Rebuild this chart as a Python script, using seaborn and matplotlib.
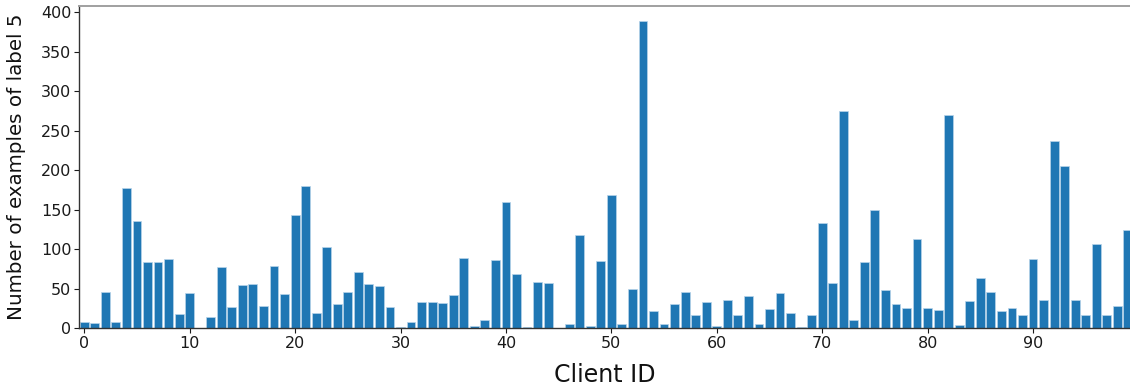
import numpy as np
import pandas as pd
import matplotlib
matplotlib.use("Agg")
import matplotlib.pyplot as plt
import seaborn as sns

# Per-client count of samples carrying label 5
client_ids = list(range(100))
label5_counts = [
    8, 6, 46, 7, 177, 135, 84, 83, 88, 18,
    44, 0, 14, 77, 26, 55, 56, 28, 79, 43,
    143, 180, 19, 102, 31, 45, 71, 56, 53, 27,
    1, 7, 33, 33, 32, 42, 89, 2, 10, 86,
    160, 68, 1, 58, 57, 0, 5, 118, 3, 85,
    168, 5, 50, 389, 22, 5, 30, 45, 17, 33,
    3, 36, 16, 40, 5, 24, 44, 19, 1, 17,
    133, 57, 275, 10, 83, 149, 48, 31, 25, 113,
    25, 23, 270, 4, 34, 63, 46, 21, 25, 17,
    88, 35, 237, 205, 36, 17, 107, 17, 28, 124,
]

df = pd.DataFrame({"client": client_ids, "count": label5_counts})

sns.set_style("white")
plt.rcParams["font.family"] = ["DejaVu Sans"]

fig = plt.figure(figsize=(11.3, 3.87), dpi=100)
ax = fig.add_axes([0.0699, 0.1525, 0.9301, 0.833])

sns.barplot(data=df, x="client", y="count", native_scale=True,
            color="#1f77b4", saturation=1, width=0.84,
            edgecolor="#b8d4ea", linewidth=0.5, ax=ax)

ax.set_xlim(-0.5, 99.2)
ax.set_ylim(0, 408.5)
ax.set_xticks([0, 10, 20, 30, 40, 50, 60, 70, 80, 90])
ax.set_yticks([0, 50, 100, 150, 200, 250, 300, 350, 400])
ax.tick_params(axis="both", labelsize=11.5, length=3.5, width=0.8,
               bottom=True, left=True, colors="#1a1a1a", pad=2)

ax.set_xlabel("Client ID", fontsize=17, labelpad=9, color="#111111")
ax.set_ylabel("Number of examples of label 5", fontsize=14.3, labelpad=11, color="#111111")

for side in ["left", "bottom"]:
    ax.spines[side].set_color("#333333")
    ax.spines[side].set_linewidth(1.0)
ax.spines["top"].set_color("#a0a0a0")
ax.spines["top"].set_linewidth(1.4)
ax.spines["right"].set_visible(False)

fig.savefig("out.png", dpi=100)
